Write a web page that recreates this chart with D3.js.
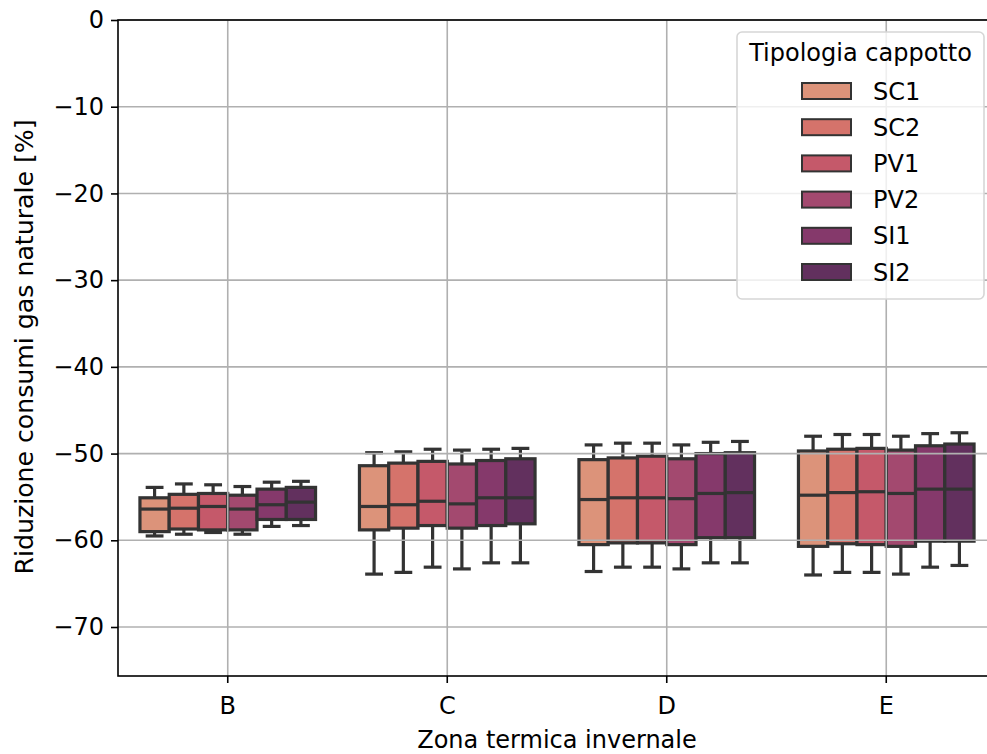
<!DOCTYPE html>
<html>
<head>
<meta charset="utf-8">
<script src="https://cdn.jsdelivr.net/npm/d3@7"></script>
<style>
  html, body { margin: 0; padding: 0; background: #fff; }
  svg { display: block; font-family: "DejaVu Sans", sans-serif; }
</style>
</head>
<body>
<svg id="chart" width="987" height="754"></svg>
<script>
// ---- data ----
const zones = ["B", "C", "D", "E"];
const types = ["SC1", "SC2", "PV1", "PV2", "SI1", "SI2"];
const colors = ["#dc937a", "#d5736b", "#c5596a", "#a3496f", "#85396b", "#62305e"];
const yTicks = [0, -10, -20, -30, -40, -50, -60, -70];

// per zone, per type: [whiskerLow, Q1, median, Q3, whiskerHigh]
const statsB = [
  [-59.5, -59.0, -56.4, -55.1, -53.9],
  [-59.3, -58.7, -56.3, -54.7, -53.5],
  [-59.1, -58.8, -56.1, -54.6, -53.6],
  [-59.3, -58.8, -56.4, -54.8, -53.8],
  [-58.4, -57.6, -55.9, -54.1, -53.3],
  [-58.3, -57.6, -55.6, -53.9, -53.2]
];
const statsC = [
  [-63.9, -58.8, -56.1, -51.4, -49.9],
  [-63.7, -58.6, -55.9, -51.1, -49.8],
  [-63.1, -58.3, -55.5, -50.9, -49.5],
  [-63.3, -58.6, -55.8, -51.2, -49.6],
  [-62.6, -58.3, -55.1, -50.8, -49.5],
  [-62.6, -58.1, -55.1, -50.6, -49.4]
];
const statsD = [
  [-63.6, -60.5, -55.3, -50.7, -49.0],
  [-63.1, -60.3, -55.1, -50.5, -48.8],
  [-63.1, -60.3, -55.1, -50.3, -48.8],
  [-63.3, -60.5, -55.2, -50.6, -49.0],
  [-62.6, -59.7, -54.6, -50.0, -48.7],
  [-62.6, -59.7, -54.5, -49.9, -48.6]
];
const statsE = [
  [-64.0, -60.7, -54.8, -49.7, -48.0],
  [-63.7, -60.4, -54.5, -49.5, -47.8],
  [-63.7, -60.5, -54.4, -49.4, -47.8],
  [-63.9, -60.7, -54.6, -49.6, -48.0],
  [-63.1, -60.1, -54.1, -49.1, -47.7],
  [-62.9, -60.1, -54.1, -48.9, -47.6]
];
const allStats = [statsB, statsC, statsD, statsE];

const xLabel = "Zona termica invernale";
const yLabel = "Riduzione consumi gas naturale [%]";
const legendTitle = "Tipologia cappotto";

// ---- layout ----
const svg = d3.select("#chart");
const plot = { left: 118, right: 996, top: 20, bottom: 676 };
const fontSize = 24;
const lineCol = "#333333";
const lw = 3.2;

svg.append("rect").attr("width", 987).attr("height", 754).attr("fill", "#fff");

const x = d3.scaleBand().domain(zones).range([plot.left, plot.right]).paddingInner(0).paddingOuter(0);
const y = d3.scaleLinear().domain([-75.65, 0]).range([plot.bottom, plot.top]);
const groupW = x.bandwidth() * 0.8;
const xs = d3.scaleBand().domain(types).range([0, groupW]);

// ---- boxes ----
const boxesG = svg.append("g");
const rows = [];
zones.forEach((z, zi) => {
  types.forEach((t, ti) => {
    const s = allStats[zi][ti];
    rows.push({ z, t, ti, lo: s[0], q1: s[1], med: s[2], q3: s[3], hi: s[4] });
  });
});

const bw = xs.bandwidth();
const bx = d => x(d.z) + (x.bandwidth() - groupW) / 2 + xs(d.t);
const bcx = d => bx(d) + bw / 2;

const box = boxesG.selectAll("g.box").data(rows).enter().append("g").attr("class", "box");
// whiskers
box.append("line").attr("x1", bcx).attr("x2", bcx).attr("y1", d => y(d.q3)).attr("y2", d => y(d.hi))
  .attr("stroke", lineCol).attr("stroke-width", lw);
box.append("line").attr("x1", bcx).attr("x2", bcx).attr("y1", d => y(d.q1)).attr("y2", d => y(d.lo))
  .attr("stroke", lineCol).attr("stroke-width", lw);
// caps
box.append("line").attr("x1", d => bcx(d) - bw / 4).attr("x2", d => bcx(d) + bw / 4)
  .attr("y1", d => y(d.hi)).attr("y2", d => y(d.hi))
  .attr("stroke", lineCol).attr("stroke-width", lw).attr("stroke-linecap", "square");
box.append("line").attr("x1", d => bcx(d) - bw / 4).attr("x2", d => bcx(d) + bw / 4)
  .attr("y1", d => y(d.lo)).attr("y2", d => y(d.lo))
  .attr("stroke", lineCol).attr("stroke-width", lw).attr("stroke-linecap", "square");
// box
box.append("rect").attr("x", bx).attr("width", bw)
  .attr("y", d => y(d.q3)).attr("height", d => y(d.q1) - y(d.q3))
  .attr("fill", d => colors[d.ti]).attr("stroke", lineCol).attr("stroke-width", lw);
// median
box.append("line").attr("x1", bx).attr("x2", d => bx(d) + bw)
  .attr("y1", d => y(d.med)).attr("y2", d => y(d.med))
  .attr("stroke", lineCol).attr("stroke-width", lw);

// ---- grid (drawn above boxes, as in reference) ----
const grid = svg.append("g");
grid.selectAll("line.h").data(yTicks).enter().append("line")
  .attr("x1", plot.left).attr("x2", plot.right)
  .attr("y1", d => y(d)).attr("y2", d => y(d))
  .attr("stroke", "#b0b0b0").attr("stroke-width", 1.6);
grid.selectAll("line.v").data(zones).enter().append("line")
  .attr("y1", plot.top).attr("y2", plot.bottom)
  .attr("x1", d => x(d) + x.bandwidth() / 2).attr("x2", d => x(d) + x.bandwidth() / 2)
  .attr("stroke", "#b0b0b0").attr("stroke-width", 1.6);

// ---- axes ----
const yAxis = d3.axisLeft(y).tickValues(yTicks).tickSize(7).tickPadding(7)
  .tickFormat(d => d < 0 ? "\u2212" + Math.abs(d) : String(d));
const gy = svg.append("g").attr("transform", `translate(${plot.left},0)`).call(yAxis);
const xAxis = d3.axisBottom(x).tickSize(7).tickPadding(7);
const gx = svg.append("g").attr("transform", `translate(0,${plot.bottom})`).call(xAxis);
[gx, gy].forEach(g => {
  g.select(".domain").remove();
  g.selectAll(".tick line").attr("stroke", "#000").attr("stroke-width", 1.6);
  g.selectAll(".tick text").attr("fill", "#000").style("font-size", fontSize + "px")
    .style("font-family", "DejaVu Sans");
});
gx.selectAll(".tick text").attr("y", 38).attr("dy", 0);

// spines
svg.append("rect").attr("x", plot.left).attr("y", plot.top)
  .attr("width", plot.right - plot.left).attr("height", plot.bottom - plot.top)
  .attr("fill", "none").attr("stroke", "#000").attr("stroke-width", 1.6);

// axis labels
svg.append("text").attr("x", (plot.left + plot.right) / 2).attr("y", 748)
  .attr("text-anchor", "middle").style("font-size", fontSize + "px").text(xLabel);
svg.append("text").attr("transform", `translate(33,347) rotate(-90)`)
  .attr("text-anchor", "middle").style("font-size", "25.2px").text(yLabel);

// ---- legend ----
const lg = svg.append("g");
lg.append("rect").attr("x", 737).attr("y", 32).attr("width", 247).attr("height", 267)
  .attr("rx", 5).attr("fill", "#fff").attr("fill-opacity", 0.8)
  .attr("stroke", "#d6d6d6").attr("stroke-width", 1.6);
lg.append("text").attr("x", 860.5).attr("y", 61).attr("text-anchor", "middle")
  .style("font-size", fontSize + "px").text(legendTitle);
const items = lg.selectAll("g.item").data(types).enter().append("g")
  .attr("transform", (d, i) => `translate(0,${91 + i * 36.2})`);
items.append("rect").attr("x", 802).attr("y", -8).attr("width", 49).attr("height", 16)
  .attr("fill", (d, i) => colors[i]).attr("stroke", lineCol).attr("stroke-width", 2);
items.append("text").attr("x", 873).attr("y", 8.5).style("font-size", fontSize + "px").text(d => d);
</script>
</body>
</html>
